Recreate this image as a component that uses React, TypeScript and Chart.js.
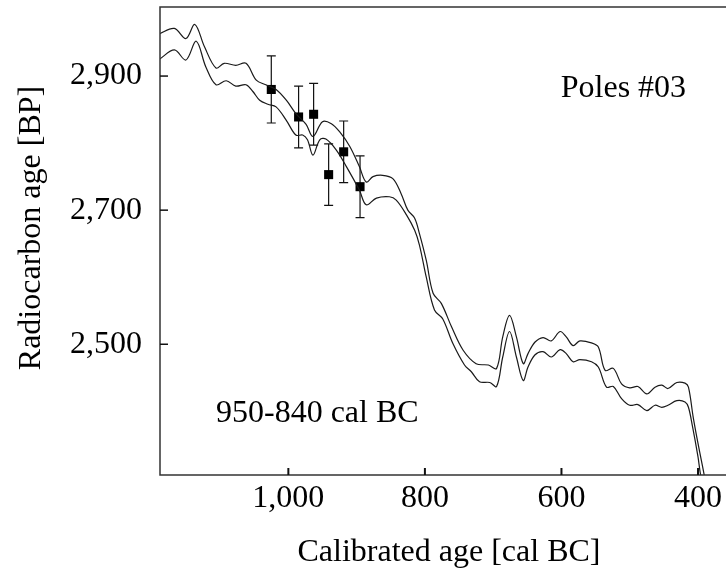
import React, { useEffect, useRef } from "react";
import { Chart, registerables } from "chart.js";

Chart.register(...registerables);

// Calibration curve envelope (cal BC, radiocarbon BP)
const upperAge = [1195, 1189, 1167, 1150, 1137, 1123, 1106, 1094, 1077, 1062, 1047, 1033, 1018, 1003, 989, 974, 964, 950, 937, 925, 910, 896, 886, 876, 862, 847, 835, 825, 815, 808, 798, 788, 776, 761, 744, 725, 707, 695, 686, 676, 666, 656, 649, 639, 627, 615, 602, 593, 583, 573, 556, 546, 536, 524, 512, 500, 488, 475, 463, 453, 444, 431, 419, 414, 407, 400, 390, 385];
const upperBP = [2960, 2963, 2971, 2956, 2977, 2944, 2912, 2919, 2916, 2919, 2894, 2887, 2880, 2864, 2844, 2828, 2810, 2832, 2829, 2817, 2795, 2765, 2742, 2750, 2752, 2747, 2725, 2700, 2688, 2665, 2625, 2576, 2561, 2526, 2491, 2471, 2469, 2464, 2511, 2543, 2511, 2471, 2486, 2503, 2510, 2505, 2519, 2511, 2498, 2505, 2502, 2496, 2461, 2464, 2441, 2435, 2437, 2426, 2436, 2439, 2434, 2443, 2442, 2436, 2391, 2352, 2300, 2270];

const lowerAge = [1195, 1189, 1167, 1150, 1135, 1121, 1106, 1091, 1077, 1062, 1052, 1042, 1030, 1018, 1003, 989, 979, 972, 964, 954, 945, 930, 915, 896, 886, 871, 852, 842, 827, 815, 808, 798, 786, 774, 759, 742, 732, 720, 705, 695, 686, 676, 666, 656, 649, 639, 627, 615, 602, 593, 583, 573, 556, 546, 534, 524, 512, 500, 488, 475, 463, 453, 444, 431, 419, 414, 408, 400, 396, 388];
const lowerBP = [2922, 2925, 2939, 2924, 2952, 2914, 2887, 2893, 2885, 2887, 2877, 2864, 2858, 2854, 2834, 2812, 2812, 2805, 2782, 2805, 2806, 2790, 2765, 2730, 2708, 2718, 2720, 2715, 2693, 2670, 2648, 2600, 2551, 2538, 2501, 2469, 2459, 2444, 2443, 2437, 2481, 2519, 2481, 2446, 2466, 2484, 2489, 2481, 2492, 2486, 2474, 2477, 2474, 2466, 2436, 2437, 2419, 2409, 2410, 2401, 2409, 2406, 2409, 2416, 2414, 2406, 2377, 2332, 2304, 2270];

// Measured samples
const sampleAge = [1025, 985, 963, 941, 919, 895];
const sampleBP = [2880, 2839, 2843, 2753, 2787, 2735];
const sampleErr = [50, 46, 46, 46, 46, 46];

// Axes
const xTickValues = [1000, 800, 600, 400];
const yTickValues = [2500, 2700, 2900];
const xMin = 359;
const xMax = 1188;
const yMin = 2305;
const yMax = 3003;
const xTitle = "Calibrated age [cal BC]";
const yTitle = "Radiocarbon age [BP]";

// Annotations (text, anchored at data coordinates: left/baseline)
const noteTexts = ["Poles #03", "950-840 cal BC"];
const noteAge = [601, 1106];
const noteBP = [2869, 2384];

const FONT_FAMILY = '"Liberation Serif", "Times New Roman", serif';
const FONT_SIZE = 32;
const INK = "#000000";
const LINE = "#1a1a1a";

const fmt = (v: number) => Number(v).toLocaleString("en-US");

const decorPlugin = {
  id: "decor",
  beforeDatasetsDraw(chart: any) {
    const { ctx, scales } = chart;
    const xs = scales.x;
    const ys = scales.y;
    ctx.save();
    ctx.strokeStyle = "#111";
    ctx.lineWidth = 1.2;
    for (let i = 0; i < sampleAge.length; i++) {
      const px = xs.getPixelForValue(sampleAge[i]);
      const pTop = ys.getPixelForValue(sampleBP[i] + sampleErr[i]);
      const pBot = ys.getPixelForValue(sampleBP[i] - sampleErr[i]);
      ctx.beginPath();
      ctx.moveTo(px, pTop);
      ctx.lineTo(px, pBot);
      ctx.moveTo(px - 4.5, pTop);
      ctx.lineTo(px + 4.5, pTop);
      ctx.moveTo(px - 4.5, pBot);
      ctx.lineTo(px + 4.5, pBot);
      ctx.stroke();
    }
    ctx.restore();
  },
  afterDraw(chart: any) {
    const { ctx, chartArea, scales } = chart;
    const { left, right, top, bottom } = chartArea;
    const xs = scales.x;
    const ys = scales.y;
    ctx.save();
    // frame: left, bottom, top
    ctx.strokeStyle = "#333";
    ctx.lineWidth = 1.5;
    ctx.beginPath();
    ctx.moveTo(right, top);
    ctx.lineTo(left, top);
    ctx.lineTo(left, bottom);
    ctx.lineTo(right, bottom);
    ctx.stroke();
    // inward ticks
    ctx.strokeStyle = "#111";
    ctx.lineWidth = 2;
    xs.ticks.forEach((t: any) => {
      const px = xs.getPixelForValue(t.value);
      ctx.beginPath();
      ctx.moveTo(px, bottom);
      ctx.lineTo(px, bottom - 7);
      ctx.stroke();
    });
    ctx.lineWidth = 1.5;
    ys.ticks.forEach((t: any) => {
      const py = ys.getPixelForValue(t.value);
      ctx.beginPath();
      ctx.moveTo(left, py);
      ctx.lineTo(left + 8, py);
      ctx.stroke();
    });
    // texts
    ctx.fillStyle = INK;
    ctx.font = `${FONT_SIZE}px ${FONT_FAMILY}`;
    ctx.textBaseline = "alphabetic";
    ctx.textAlign = "left";
    for (let i = 0; i < noteTexts.length; i++) {
      ctx.fillText(noteTexts[i], xs.getPixelForValue(noteAge[i]), ys.getPixelForValue(noteBP[i]));
    }
    // x title
    ctx.textAlign = "center";
    ctx.fillText(xTitle, (left + right) / 2 + 6, bottom + 86);
    // y title
    ctx.save();
    ctx.translate(40, (top + bottom) / 2 - 13);
    ctx.rotate(-Math.PI / 2);
    ctx.textAlign = "center";
    ctx.fillText(yTitle, 0, 0);
    ctx.restore();
    ctx.restore();
  },
};

export default function App() {
  const canvasRef = useRef<HTMLCanvasElement | null>(null);

  useEffect(() => {
    if (!canvasRef.current) return;
    const tickFont = { family: FONT_FAMILY, size: FONT_SIZE };
    const chart = new Chart(canvasRef.current, {
      type: "scatter",
      data: {
        datasets: [
          {
            label: "upper",
            data: upperAge.map((a, i) => ({ x: a, y: upperBP[i] })),
            showLine: true,
            borderColor: LINE,
            borderWidth: 1.2,
            pointRadius: 0,
            tension: 0.35,
            fill: false,
          },
          {
            label: "lower",
            data: lowerAge.map((a, i) => ({ x: a, y: lowerBP[i] })),
            showLine: true,
            borderColor: LINE,
            borderWidth: 1.2,
            pointRadius: 0,
            tension: 0.35,
            fill: false,
          },
          {
            label: "samples",
            data: sampleAge.map((a, i) => ({ x: a, y: sampleBP[i] })),
            showLine: false,
            pointStyle: "rect",
            pointRadius: 6.4,
            pointBackgroundColor: "#000",
            pointBorderColor: "#000",
            pointBorderWidth: 0,
          },
        ],
      },
      options: {
        responsive: false,
        animation: false,
        layout: { autoPadding: false, padding: { top: 7, right: 0, bottom: 0, left: 0 } },
        plugins: {
          legend: { display: false },
          tooltip: { enabled: false },
          title: { display: false },
        },
        scales: {
          x: {
            type: "linear",
            reverse: true,
            min: xMin,
            max: xMax,
            afterBuildTicks: (s: any) => {
              s.ticks = xTickValues.map((v) => ({ value: v }));
            },
            afterFit: (s: any) => {
              s.height = 101;
              s.paddingLeft = 0;
              s.paddingRight = 0;
            },
            grid: { display: false, drawTicks: false },
            border: { display: false },
            ticks: {
              padding: 4,
              color: INK,
              font: tickFont,
              maxRotation: 0,
              autoSkip: false,
              callback: (v: any) => fmt(v),
            },
          },
          y: {
            type: "linear",
            min: yMin,
            max: yMax,
            afterBuildTicks: (s: any) => {
              s.ticks = yTickValues.map((v) => ({ value: v }));
            },
            afterFit: (s: any) => {
              s.width = 160;
              s.paddingTop = 0;
              s.paddingBottom = 0;
            },
            grid: { display: false, drawTicks: false },
            border: { display: false },
            ticks: {
              padding: 18,
              color: INK,
              font: tickFont,
              autoSkip: false,
              callback: (v: any) => fmt(v),
            },
          },
        },
      },
      plugins: [decorPlugin],
    } as any);
    return () => chart.destroy();
  }, []);

  return (
    <div style={{ position: "absolute", left: 0, top: 0, width: 726, height: 576, background: "#fff", overflow: "hidden" }}>
      <canvas ref={canvasRef} width={726} height={576} style={{ display: "block" }} />
    </div>
  );
}
